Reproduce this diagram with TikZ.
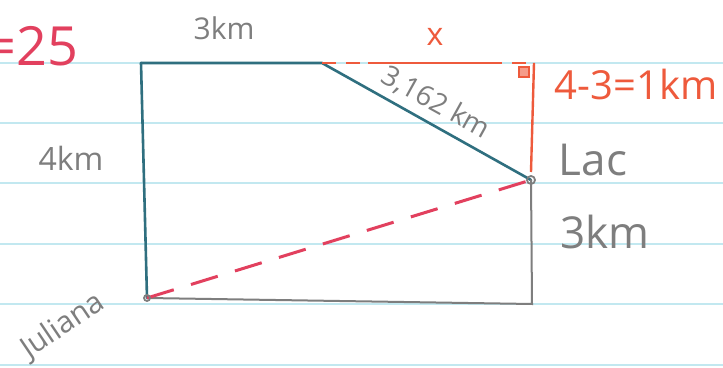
\documentclass[tikz,border=0pt]{standalone}
\usepackage{fontspec}
\setmainfont{Open Sans}
\usetikzlibrary{calc}
\definecolor{paperrule}{HTML}{C2E8F0}
\definecolor{tealink}{HTML}{2F6F7F}
\definecolor{pencil}{HTML}{7E7E7E}
\definecolor{pinkred}{HTML}{E2405E}
\definecolor{orangered}{HTML}{EE5A3C}

\begin{document}
\begin{tikzpicture}[x=0.5pt, y=-0.5pt,
		ink/.style={draw=tealink, line width=1.3pt, line cap=round},
		graphite/.style={draw=pencil, line width=1pt, line cap=round},
		reddash/.style={draw=pinkred, line width=1.5pt, dash pattern=on 14pt off 9pt},
		hand/.style={text=pencil, inner sep=0pt}]
		\fill[white] (0,0) rectangle (723,368);
		\clip (0,0) rectangle (723,368);
		% lined paper
		\foreach \y in {63,123,183,244,304,365}
			\draw[paperrule, line width=0.8pt] (0,\y) -- (723,\y);
		\coordinate (topleft) at (141,63);
		\coordinate (kink) at (322,63);
		\coordinate (corner) at (534,63);
		\coordinate (lac) at (531,180);
		\coordinate (juliana) at (147,298);
		\coordinate (bottomright) at (532,304);
		\draw[ink] (topleft) -- (juliana);
		\draw[ink] (topleft) -- (kink) -- (lac);
		\draw[graphite] (juliana) -- (bottomright) -- (lac);
		\draw[reddash] (juliana) -- (lac);
		\draw[orangered, line width=1.3pt, dash pattern=on 7pt off 5pt on 7pt off 4pt on 60pt off 0pt] (kink) -- (corner);
		\draw[orangered, line width=1.2pt] (corner) -- ($(lac)+(0,-8)$);
		\draw[orangered, line width=1pt, fill=orangered!60] (519,67) rectangle (529,77);
		\draw[pencil, line width=0.9pt] (juliana) circle (3);
		\draw[pencil, line width=0.9pt] (lac) circle (4);
		% labels
		\node[hand, font=\fontsize{15}{15}\selectfont] (topkm) at (224,28) {3km};
		\node[hand, font=\fontsize{16}{16}\selectfont] (leftkm) at (71,158) {4km};
		\node[hand, font=\fontsize{22}{22}\selectfont] (lacname) at (593,160) {Lac};
		\node[hand, font=\fontsize{22}{22}\selectfont] (rightkm) at (605,232) {3km};
		\node[hand, font=\fontsize{14}{14}\selectfont, rotate=-29] (hyp) at (436,103) {3,162 km};
		\node[hand, font=\fontsize{15}{15}\selectfont, rotate=34] (julname) at (63,326) {Juliana};
		\node[text=orangered, inner sep=0pt, font=\fontsize{16}{16}\selectfont] (xlabel) at (435,37) {x};
		\node[text=orangered, inner sep=0pt, font=\fontsize{20}{20}\selectfont] (diff) at (636,85) {4-3=1km};
		\node[text=pinkred, inner sep=0pt, anchor=east, font=\fontsize{27}{27}\selectfont] (score) at (79,46) {=25};
\end{tikzpicture}
\end{document}
